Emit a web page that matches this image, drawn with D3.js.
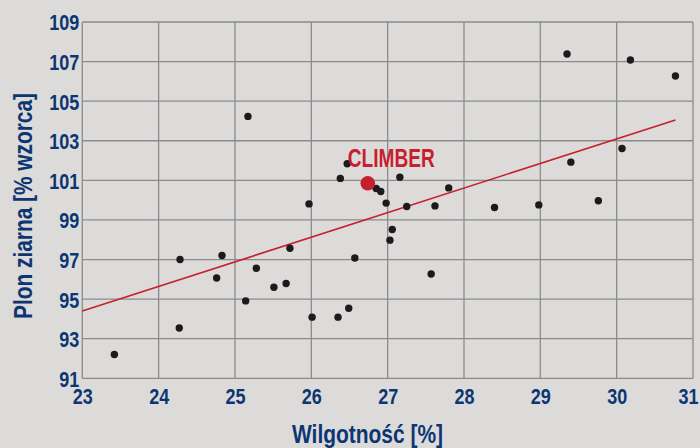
<!DOCTYPE html>
<html><head><meta charset="utf-8">
<script src="https://cdn.jsdelivr.net/npm/d3@7"></script>
<style>
html,body{margin:0;padding:0;background:#dcdbda;}
svg{display:block;}
text{font-family:"Liberation Sans Narrow","Arial Narrow","Liberation Sans",sans-serif;font-weight:bold;}
</style></head>
<body>
<svg id="c" width="700" height="448"></svg>
<script>
const xTicks = [23,24,25,26,27,28,29,30,31];
const yTicks = [91,93,95,97,99,101,103,105,107,109];
const moisture = [23.42,24.28,24.27,24.76,24.83,25.14,25.17,25.28,25.51,25.67,25.72,25.97,26.01,26.35,26.38,26.47,26.49,26.57,26.85,26.91,26.98,27.03,27.06,27.16,27.25,27.57,27.62,27.80,28.40,28.98,29.35,29.40,29.76,30.07,30.18,30.77];
const yieldPct = [92.2,97.0,93.54,96.07,97.2,94.91,104.23,96.56,95.6,95.79,97.57,99.81,94.09,94.09,101.1,101.84,94.54,97.08,100.59,100.44,99.85,97.98,98.52,101.16,99.68,96.27,99.71,100.62,99.63,99.76,107.38,101.92,99.97,102.61,107.08,106.27];
const trendX = [23, 30.77];
const trendY = [94.4, 104.05];
const highlightName = ["CLIMBER"];
const highlightX = [26.74];
const highlightY = [100.85];
const xTitle = "Wilgotność [%]";
const yTitle = "Plon ziarna [% wzorca]";

const svg = d3.select("#c");
const L=82.3, R=693, T=22, B=378.3;
const x = d3.scaleLinear().domain([23,31]).range([L,R]);
const y = d3.scaleLinear().domain([91,109]).range([B,T]);
const blue = "#0c3672", red = "#c81f2e", grid = "#8b8b8b";
const digitW = 10;

// grid
const g = svg.append("g");
g.selectAll("line.v").data(xTicks).join("line")
  .attr("x1",d=>x(d)).attr("x2",d=>x(d)).attr("y1",T).attr("y2",B)
  .attr("stroke",grid).attr("stroke-width",1.3);
g.selectAll("line.h").data(yTicks).join("line")
  .attr("y1",d=>y(d)).attr("y2",d=>y(d)).attr("x1",L).attr("x2",R)
  .attr("stroke",grid).attr("stroke-width",1.3);

// axes labels
const xAxis = d3.axisBottom(x).tickValues(xTicks).tickSize(0).tickPadding(0).tickFormat(d3.format("d"));
const xa = svg.append("g").attr("transform",`translate(0,${B})`).call(xAxis);
xa.select(".domain").remove();
xa.selectAll("text").attr("fill",blue).attr("font-size",21.5).attr("dy",null).attr("y",25.5)
  .attr("font-family",null).attr("font-weight","bold")
  .attr("dx",(d,i)=> i===xTicks.length-1 ? -5 : 0)
  .attr("textLength",d=>String(d).length*digitW).attr("lengthAdjust","spacingAndGlyphs");

const yAxis = d3.axisLeft(y).tickValues(yTicks).tickSize(0).tickPadding(3).tickFormat(d3.format("d"));
const ya = svg.append("g").attr("transform",`translate(${L},0)`).call(yAxis);
ya.select(".domain").remove();
ya.selectAll("text").attr("fill",blue).attr("font-size",22).attr("dy","0.36em")
  .attr("font-family",null).attr("font-weight","bold")
  .attr("textLength",d=>String(d).length*digitW).attr("lengthAdjust","spacingAndGlyphs");

// trend line
svg.append("line")
  .attr("x1",x(trendX[0])).attr("y1",y(trendY[0]))
  .attr("x2",x(trendX[1])).attr("y2",y(trendY[1]))
  .attr("stroke",red).attr("stroke-width",1.6);

// points
svg.append("g").selectAll("circle").data(moisture.map((m,i)=>[m,yieldPct[i]])).join("circle")
  .attr("cx",d=>x(d[0])).attr("cy",d=>y(d[1])).attr("r",3.7).attr("fill","#1c1a1a");

// highlight
svg.append("circle").attr("cx",x(highlightX[0])).attr("cy",y(highlightY[0])).attr("r",7.3).attr("fill",red);
svg.append("text").attr("x",x(highlightX[0])-20).attr("y",y(highlightY[0])-16)
  .attr("fill",red).attr("font-size",26).attr("textLength",87).attr("lengthAdjust","spacingAndGlyphs")
  .text(highlightName[0]);

// titles
svg.append("text").attr("x",292).attr("y",443)
  .attr("fill",blue).attr("font-size",25.5).attr("textLength",151).attr("lengthAdjust","spacingAndGlyphs").text(xTitle);
svg.append("text").attr("transform","translate(32,319) rotate(-90)")
  .attr("fill",blue).attr("font-size",25.5).attr("textLength",226).attr("lengthAdjust","spacingAndGlyphs").text(yTitle);
</script>
</body></html>
